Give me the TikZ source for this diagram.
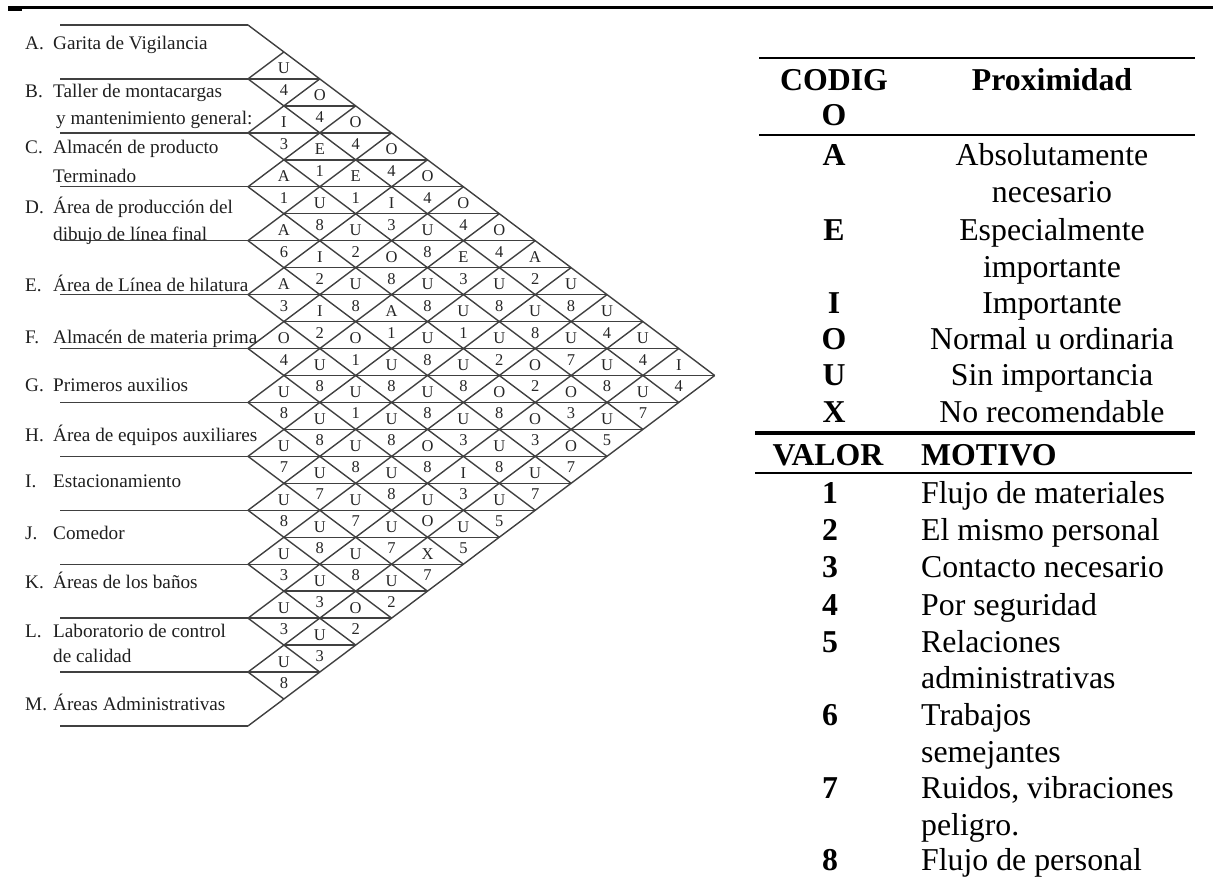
\documentclass[tikz,border=0pt]{standalone}
\usepackage{fontspec}
\setmainfont{Liberation Serif}
\newcommand\labfont{\fontsize{19.2}{21}\selectfont}
\newcommand\relfont{\fontsize{16.5}{17}\selectfont}
\newcommand\tabfont{\fontsize{31.8}{36}\selectfont}
% grid geometry (pt): left vertex x, half-diamond width, top y, half-row height
\def\gxo{248}
\def\gdx{35.9}
\def\gyo{25}
\def\gh{26.96}
\begin{document}
\begin{tikzpicture}[x=1pt,y=-1pt,
  gridline/.style={draw=black!75,line width=1.4pt},
  rule/.style={draw=black,line width=2.6pt},
  lab/.style={anchor=base west,inner sep=0pt,font=\labfont,text=black!88},
  rel/.style={anchor=base,inner sep=0pt,font=\relfont,text=black!85},
  code/.style={anchor=base,inner sep=0pt,font=\tabfont\bfseries},
  desc/.style={anchor=base,inner sep=0pt,font=\tabfont},
  motive/.style={anchor=base west,inner sep=0pt,font=\tabfont}]
\useasboundingbox (0,0) rectangle (1213,878);

% page rule
\coordinate (ruleL) at (8,7.5);
\coordinate (ruleR) at (1213,7.5);
\draw[rule,line width=2.8pt] (ruleL) -- (ruleR);
\draw[rule,line width=2pt] (8,10) -- (22,10);

% department boxes: horizontal boundaries
\foreach \k in {0,...,13}
  \draw[gridline] (60,{\gyo+2*\k*\gh}) -- (\gxo,{\gyo+2*\k*\gh});

% descending diagonals
\foreach \k in {0,...,12}
  \draw[gridline] (\gxo,{\gyo+2*\k*\gh}) -- ({\gxo+(13-\k)*\gdx},{\gyo+2*\k*\gh+(13-\k)*\gh});
% ascending diagonals
\foreach \k in {1,...,13}
  \draw[gridline] (\gxo,{\gyo+2*\k*\gh}) -- ({\gxo+\k*\gdx},{\gyo+2*\k*\gh-\k*\gh});

% horizontal splits through the diamonds
\foreach \m in {2,...,24}{
  \pgfmathtruncatemacro\dmin{1+mod(\m,2)}
  \pgfmathtruncatemacro\dmax{min(\m-1,25-\m)}
  \draw[gridline] ({\gxo+(\dmin-1)*\gdx},{\gyo+\m*\gh}) -- ({\gxo+(\dmax+1)*\gdx},{\gyo+\m*\gh});
}

% department labels
\node[lab] (dA) at (25,49) {\makebox[28pt][l]{A.}Garita de Vigilancia};
\node[lab] (dB) at (25,97) {\makebox[28pt][l]{B.}Taller de montacargas};
\node[lab] (dB2) at (56,124) {y mantenimiento general:};
\node[lab] (dC) at (25,153) {\makebox[28pt][l]{C.}Almacén de producto};
\node[lab] (dC2) at (53,182) {Terminado};
\node[lab] (dD) at (25,213) {\makebox[28pt][l]{D.}Área de producción del};
\node[lab] (dD2) at (53,240) {dibujo de línea final};
\node[lab] (dE) at (25,291) {\makebox[28pt][l]{E.}Área de Línea de hilatura};
\node[lab] (dF) at (25,343) {\makebox[28pt][l]{F.}Almacén de materia prima};
\node[lab] (dG) at (25,391) {\makebox[28pt][l]{G.}Primeros auxilios};
\node[lab] (dH) at (25,441) {\makebox[28pt][l]{H.}Área de equipos auxiliares};
\node[lab] (dI) at (25,487) {\makebox[28pt][l]{I.}Estacionamiento};
\node[lab] (dJ) at (25,539) {\makebox[28pt][l]{J.}Comedor};
\node[lab] (dK) at (25,588) {\makebox[28pt][l]{K.}Áreas de los baños};
\node[lab] (dL) at (25,637) {\makebox[28pt][l]{L.}Laboratorio de control};
\node[lab] (dL2) at (53,662) {de calidad};
\node[lab] (dM) at (25,710) {\makebox[28pt][l]{M.}Áreas Administrativas};

% relationship codes (letter above, reason below)
\foreach \i/\j/\l/\n in {
  0/1/U/4, 0/2/O/4, 0/3/O/4, 0/4/O/4, 0/5/O/4, 0/6/O/4, 0/7/O/4, 0/8/A/2, 0/9/U/8, 0/10/U/4, 0/11/U/4, 0/12/I/4,
  1/2/I/3, 1/3/E/1, 1/4/E/1, 1/5/I/3, 1/6/U/8, 1/7/E/3, 1/8/U/8, 1/9/U/8, 1/10/U/7, 1/11/U/8, 1/12/U/7,
  2/3/A/1, 2/4/U/8, 2/5/U/2, 2/6/O/8, 2/7/U/8, 2/8/U/1, 2/9/U/2, 2/10/O/2, 2/11/O/3, 2/12/U/5,
  3/4/A/6, 3/5/I/2, 3/6/U/8, 3/7/A/1, 3/8/U/8, 3/9/U/8, 3/10/O/8, 3/11/O/3, 3/12/O/7,
  4/5/A/3, 4/6/I/2, 4/7/O/1, 4/8/U/8, 4/9/U/8, 4/10/U/3, 4/11/U/8, 4/12/U/7,
  5/6/O/4, 5/7/U/8, 5/8/U/1, 5/9/U/8, 5/10/O/8, 5/11/I/3, 5/12/U/5,
  6/7/U/8, 6/8/U/8, 6/9/U/8, 6/10/U/8, 6/11/U/O, 6/12/U/5,
  7/8/U/7, 7/9/U/7, 7/10/U/7, 7/11/U/7, 7/12/X/7,
  8/9/U/8, 8/10/U/8, 8/11/U/8, 8/12/U/2,
  9/10/U/3, 9/11/U/3, 9/12/O/2,
  10/11/U/3, 10/12/U/3,
  11/12/U/8}{
  \pgfmathsetmacro\cx{\gxo+(\j-\i)*\gdx}
  \pgfmathsetmacro\cy{\gyo+(\i+\j+1)*\gh}
  \node[rel] (c-\i-\j) at (\cx,{\cy-5}) {\l};
  \node[rel] (r-\i-\j) at (\cx,{\cy+16.5}) {\n};
}

% legend table
\draw[rule] (759,58) -- (1195,58);
\draw[rule] (759,135) -- (1195,135);
\node[code] (hcod) at (834,90) {CODIG};
\node[code] (hcod2) at (834,125) {O};
\node[code] (hprox) at (1052,90) {Proximidad};

\node[code] (kA) at (834,165) {A};
\node[desc] (tA) at (1052,165) {Absolutamente};
\node[desc] (tA2) at (1052,202) {necesario};
\node[code] (kE) at (834,240) {E};
\node[desc] (tE) at (1052,240) {Especialmente};
\node[desc] (tE2) at (1052,277) {importante};
\node[code] (kI) at (834,313) {I};
\node[desc] (tI) at (1052,313) {Importante};
\node[code] (kO) at (834,349) {O};
\node[desc] (tO) at (1052,349) {Normal u ordinaria};
\node[code] (kU) at (834,385) {U};
\node[desc] (tU) at (1052,385) {Sin importancia};
\node[code] (kX) at (834,422) {X};
\node[desc] (tX) at (1052,422) {No recomendable};

\draw[rule,line width=3.2pt] (755,433) -- (1195,433);
\node[code] (hval) at (828,465) {VALOR};
\node[code,anchor=base west] (hmot) at (921,465) {MOTIVO};
\draw[rule,line width=2.2pt] (755,473) -- (1192,473);

\node[code] (v1) at (830,503) {1};
\node[motive] (m1) at (921,503) {Flujo de materiales};
\node[code] (v2) at (830,540) {2};
\node[motive] (m2) at (921,540) {El mismo personal};
\node[code] (v3) at (830,577) {3};
\node[motive] (m3) at (921,577) {Contacto necesario};
\node[code] (v4) at (830,615) {4};
\node[motive] (m4) at (921,615) {Por seguridad};
\node[code] (v5) at (830,652) {5};
\node[motive] (m5) at (921,652) {Relaciones};
\node[motive] (m5b) at (921,688) {administrativas};
\node[code] (v6) at (830,725) {6};
\node[motive] (m6) at (921,725) {Trabajos};
\node[motive] (m6b) at (921,762) {semejantes};
\node[code] (v7) at (830,798) {7};
\node[motive] (m7) at (921,798) {Ruidos, vibraciones};
\node[motive] (m7b) at (921,835) {peligro.};
\node[code] (v8) at (830,870) {8};
\node[motive] (m8) at (921,870) {Flujo de personal};
\end{tikzpicture}
\end{document}
